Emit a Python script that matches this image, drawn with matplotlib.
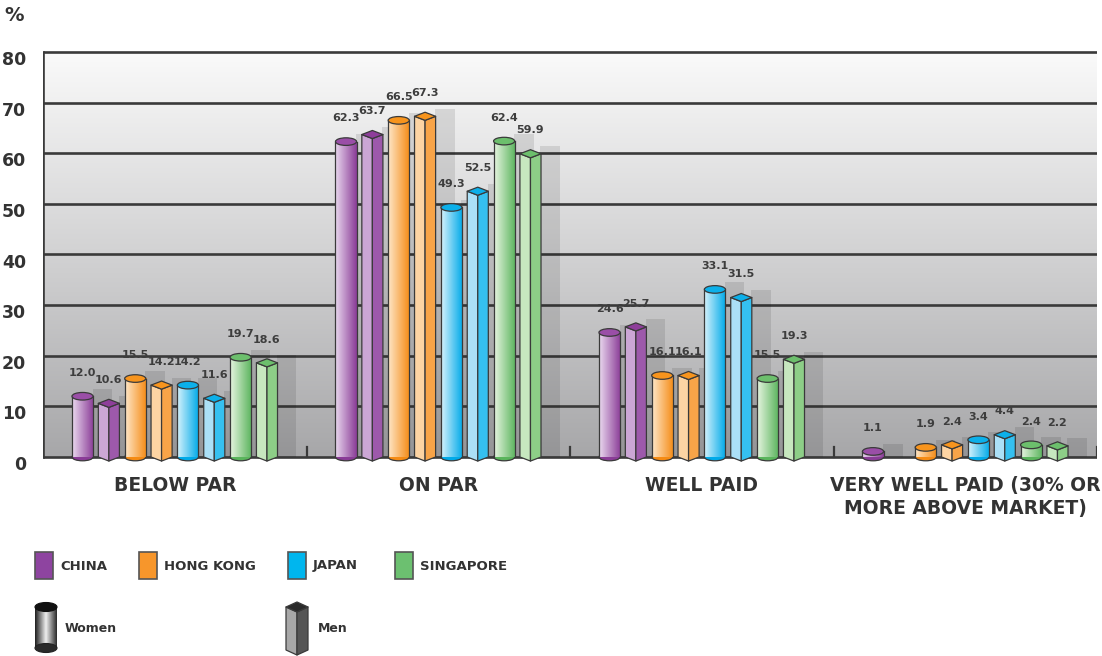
"""Pay position vs market by country and gender: 3D-style grouped bars."""

import numpy as np
import matplotlib
matplotlib.use("Agg")
import matplotlib.pyplot as plt
from matplotlib.patches import Ellipse, Polygon, Rectangle
from matplotlib.colors import LinearSegmentedColormap

categories = ["BELOW PAR", "ON PAR", "WELL PAID",
              "VERY WELL PAID (30% OR\nMORE ABOVE MARKET)"]
countries = ["CHINA", "HONG KONG", "JAPAN", "SINGAPORE"]

china_women     = [12.0, 62.3, 24.6, 1.1]
china_men       = [10.6, 63.7, 25.7, None]
hongkong_women  = [15.5, 66.5, 16.1, 1.9]
hongkong_men    = [14.2, 67.3, 16.1, 2.4]
japan_women     = [14.2, 49.3, 33.1, 3.4]
japan_men       = [11.6, 52.5, 31.5, 4.4]
singapore_women = [19.7, 62.4, 15.5, 2.4]
singapore_men   = [18.6, 59.9, 19.3, 2.2]

women = [china_women, hongkong_women, japan_women, singapore_women]
men   = [china_men, hongkong_men, japan_men, singapore_men]
yticks = list(range(0, 90, 10))

# (light, dark, top) for cylinders; (left face, right face, top) for prisms
CYL = [("#ead9ef", "#8a3c97", "#9a4ea7"),
       ("#fee6c8", "#f58b14", "#f7941d"),
       ("#d6f2fc", "#00aae9", "#0cb0ea"),
       ("#e6f4e0", "#5ab45c", "#6cbf6c")]
PRI = [("#cba6d5", "#9d59ab", "#8e3e9a"),
       ("#fdd4a3", "#f8a448", "#f7941d"),
       ("#abe0f7", "#35c0f0", "#0cb0ea"),
       ("#c7e7bf", "#8dce87", "#6cbf6c")]
LEG = ["#8e44a0", "#f7962b", "#00b6ee", "#6cc070"]
EDGE = "#3a3a3a"
TXT = "#333333"

BODY = ["DejaVu Sans"]
NARROW = ["DejaVu Sans Condensed", "DejaVu Sans"]

W = 0.08       # bar width (category width = 1)
STEP = 0.1     # spacing between bar centres
EH = 1.5       # ellipse height of cylinder caps (data units)
DD = 0.8       # half-height of prism diamond top


def cylinder(ax, xc, w, y0, y1, eh, c_light, c_dark, c_top, z):
    cmap = LinearSegmentedColormap.from_list("g", [c_light, c_dark])
    grad = np.linspace(0, 1, 64).reshape(1, -1)
    ax.add_patch(Ellipse((xc, y0), w, eh, fc=c_dark, ec=EDGE, lw=0.9, zorder=z))
    ax.imshow(grad, cmap=cmap, extent=(xc - w / 2, xc + w / 2, y0, y1),
              aspect="auto", interpolation="bilinear", zorder=z + 0.1)
    ax.plot([xc - w / 2, xc - w / 2], [y0, y1], color=EDGE, lw=0.9, zorder=z + 0.15)
    ax.plot([xc + w / 2, xc + w / 2], [y0, y1], color=EDGE, lw=0.9, zorder=z + 0.15)
    ax.add_patch(Ellipse((xc, y1), w, eh, fc=c_top, ec=EDGE, lw=0.9, zorder=z + 0.2))


def prism(ax, xc, w, y0, y1, d, c_left, c_right, c_top, z):
    l, r = xc - w / 2, xc + w / 2
    kw = dict(ec=EDGE, lw=0.9, joinstyle="round")
    ax.add_patch(Polygon([(l, y1), (xc, y1 - d), (xc, y0 - d), (l, y0)],
                         fc=c_left, zorder=z, **kw))
    ax.add_patch(Polygon([(xc, y1 - d), (r, y1), (r, y0), (xc, y0 - d)],
                         fc=c_right, zorder=z, **kw))
    ax.add_patch(Polygon([(l, y1), (xc, y1 - d), (r, y1), (xc, y1 + d)],
                         fc=c_top, zorder=z + 0.1, **kw))


def main():
    fig = plt.figure(figsize=(11.02, 6.56), dpi=100)

    # plot area: x 43..1097 px, value 0 at 457 px, 80 at 52 px
    ppu = (457 - 52) / 80.0
    ylo, yhi = -1.6, 80.4
    bot = 457 + (-ylo) * ppu
    top = 457 - yhi * ppu
    ax = fig.add_axes([43 / 1102, 1 - bot / 656, (1097 - 43) / 1102, (bot - top) / 656])
    ax.set_axis_off()

    # background gradient
    bg = LinearSegmentedColormap.from_list("bg", ["#a7a7a9", "#d2d2d3", "#fafafa"])
    ax.imshow(np.linspace(0, 1, 256).reshape(-1, 1), cmap=bg, origin="lower",
              extent=(0, 4, 0, 80), aspect="auto", zorder=0)
    for v in yticks:
        ax.plot([0, 4], [v, v], color="#3a3a3a", lw=1.9, zorder=1, solid_capstyle="butt")
    ax.plot([0, 0], [0, 80], color="#3a3a3a", lw=1.9, zorder=1)
    for b in [1, 2, 3, 4]:
        ax.plot([b, b], [0, 2.0], color="#3a3a3a", lw=1.6, zorder=1)

    for ci in range(len(categories)):
        for k in range(len(countries)):
            for g, series in enumerate([women, men]):
                v = series[k][ci]
                if v is None:
                    continue
                j = 2 * k + g
                xc = ci + 0.5 + (j - 3.5) * STEP
                # soft depth shadow behind each bar
                ax.add_patch(Rectangle((xc + 0.75 * STEP - 0.037, 0), 0.074, v + 1.5,
                                       fc="#000000", alpha=0.10, lw=0, zorder=2))
                if g == 0:
                    cylinder(ax, xc, W, 0, v, EH, *CYL[k], z=3 + j * 0.01)
                else:
                    prism(ax, xc, W, 0, v, DD, *PRI[k], z=3 + j * 0.01)
                ax.text(xc, v + 4.6, f"{v:.1f}", ha="center", va="center",
                        fontsize=8, fontweight="bold", color="#3d3d3d",
                        family=NARROW, zorder=6)
        ax.text(ci + 0.5, -3.7, categories[ci], ha="center", va="top",
                fontsize=13.5, fontweight="bold", color=TXT, family=BODY,
                linespacing=1.3)

    for v in yticks:
        ax.text(-0.064, v - 1.6, str(v), ha="right", va="center",
                fontsize=12.5, fontweight="bold", color=TXT, family=BODY)
    ax.text(-0.11, 87.2, "%", ha="center", va="center",
            fontsize=14, fontweight="bold", color=TXT, family=BODY)

    ax.set_xlim(0, 4)
    ax.set_ylim(ylo, yhi)

    # legend drawn in pixel coordinates
    lg = fig.add_axes([0, 0, 1, 1], zorder=-1)
    lg.set_axis_off()
    sq_x = [35, 139, 288, 395]
    for k, name in enumerate(countries):
        lg.add_patch(Rectangle((sq_x[k], 552), 18, 27, fc=LEG[k], ec="#555555", lw=1.2))
        lg.text(sq_x[k] + 25, 566, name, ha="left", va="center", fontsize=9.5,
                fontweight="bold", color=TXT, family=NARROW)
    # Women icon: grey cylinder
    cmap = LinearSegmentedColormap.from_list("w", ["#1e1e1e", "#f0f0f0", "#2a2a2a"])
    lg.add_patch(Ellipse((46, 648), 22, 9, fc="#2a2a2a", ec="#222222", lw=0.8))
    lg.imshow(np.linspace(0, 1, 64).reshape(1, -1), cmap=cmap,
              extent=(35, 57, 648, 607), aspect="auto", interpolation="bilinear")
    lg.add_patch(Ellipse((46, 607), 22, 9, fc="#111111", ec="#111111", lw=0.8))
    lg.text(65, 628, "Women", ha="left", va="center", fontsize=9,
            fontweight="bold", color=TXT, family=NARROW)
    # Men icon: grey prism (pixel y axis points down, so depth is negative)
    prism(lg, 297, 22, 650, 607, -5, "#a8a8a8", "#555555", "#2a2a2a", z=2)
    lg.text(318, 628, "Men", ha="left", va="center", fontsize=9,
            fontweight="bold", color=TXT, family=NARROW)
    lg.set_xlim(0, 1102)
    lg.set_ylim(656, 0)

    fig.savefig("out.png", dpi=100, facecolor="white")


if __name__ == "__main__":
    main()
